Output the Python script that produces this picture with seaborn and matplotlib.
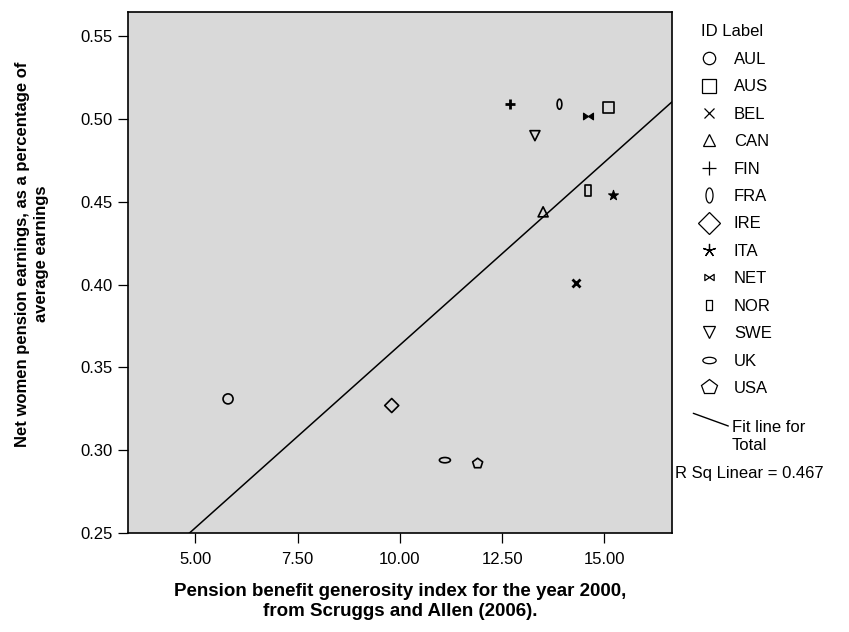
import numpy as np
import pandas as pd
import matplotlib
matplotlib.use("Agg")
import matplotlib.pyplot as plt
from matplotlib.path import Path
from matplotlib.lines import Line2D
from matplotlib.transforms import Affine2D
import seaborn as sns

# ---- data -------------------------------------------------------------
countries = ["AUL", "AUS", "BEL", "CAN", "FIN", "FRA", "IRE",
             "ITA", "NET", "NOR", "SWE", "UK", "USA"]
generosity_2000 = [5.8, 15.1, 14.3, 13.5, 12.7, 13.9, 9.8,
                   15.2, 14.6, 14.6, 13.3, 11.1, 11.9]
women_pension = [0.331, 0.507, 0.401, 0.444, 0.509, 0.509, 0.327,
                 0.454, 0.502, 0.457, 0.490, 0.294, 0.292]
x_ticks = [5.0, 7.5, 10.0, 12.5, 15.0]
y_ticks = [0.25, 0.30, 0.35, 0.40, 0.45, 0.50, 0.55]

df = pd.DataFrame({"country": countries,
                   "generosity": generosity_2000,
                   "pension": women_pension})

# ---- style ------------------------------------------------------------
sns.set_style("ticks")
plt.rcParams["font.family"] = ["Liberation Sans", "DejaVu Sans"]
plt.rcParams["font.size"] = 12
plt.rcParams["text.color"] = "black"
plt.rcParams["axes.labelcolor"] = "black"
plt.rcParams["xtick.color"] = "black"
plt.rcParams["ytick.color"] = "black"


def ellipse(sx, sy):
    return Affine2D().scale(sx, sy).transform_path(Path.unit_circle())


tall_ellipse = ellipse(0.47, 1.0)
flat_ellipse = ellipse(1.0, 0.48)
tall_rect = Path([(-0.5, -1), (0.5, -1), (0.5, 1), (-0.5, 1), (-0.5, -1)],
                 closed=True)
bowtie = Path([(-1, -0.67), (-1, 0.67), (1, -0.67), (1, 0.67), (-1, -0.67)],
              closed=True)

# marker, scatter size (pt^2), fill kind, edge width
point_style = {
    "AUL": ("o", 52, "open", 1.2),
    "AUS": ("s", 63, "open", 1.2),
    "BEL": ("x", 33, "line", 2.0),
    "CAN": ("^", 52, "open", 1.2),
    "FIN": ("+", 42, "line", 2.0),
    "FRA": (tall_ellipse, 52, "open", 1.2),
    "IRE": ("D", 51, "open", 1.2),
    "ITA": ("*", 55, "solid", 0.8),
    "NET": (bowtie, 52, "solid", 0.8),
    "NOR": (tall_rect, 63, "open", 1.2),
    "SWE": ("v", 52, "open", 1.2),
    "UK": (flat_ellipse, 63, "open", 1.2),
    "USA": ("p", 57, "open", 1.2),
}

# marker and marker size (pt) for the key
key_style = {
    "AUL": ("o", 8.9),
    "AUS": ("s", 10.0),
    "BEL": ("x", 7.7),
    "CAN": ("^", 8.4),
    "FIN": ("+", 9.6),
    "FRA": (tall_ellipse, 10.8),
    "IRE": ("D", 10.7),
    "ITA": ((5, 2, 0), 9.5),
    "NET": (bowtie, 6.7),
    "NOR": (tall_rect, 7.7),
    "SWE": ("v", 8.4),
    "UK": (flat_ellipse, 9.6),
    "USA": ("p", 11.5),
}

W, H = 849, 632
fig = plt.figure(figsize=(W / 100, H / 100), dpi=100)
ax = fig.add_axes([127.8 / W, 1 - 533 / H, 544.2 / W, 521.5 / H])
ax.set_facecolor("#d9d9d9")

x_lim = (3.35, 16.65)
y_lim = (0.25, 0.565)
ax.set_xlim(*x_lim)
ax.set_ylim(*y_lim)

# ---- fit line for all countries -----------------------------------------
sns.regplot(data=df, x="generosity", y="pension", scatter=False, ci=None,
            truncate=False, color="k", line_kws=dict(linewidth=1.1), ax=ax)

# ---- one marker shape per country ---------------------------------------
for name in countries:
    marker, size, kind, lw = point_style[name]
    kw = dict(marker=marker, s=size, linewidth=lw)
    if kind == "line":
        kw["color"] = "k"
    elif kind == "solid":
        kw.update(facecolor="k", edgecolor="k")
    else:
        kw.update(facecolor="none", edgecolor="k")
    sns.scatterplot(data=df[df["country"] == name], x="generosity",
                    y="pension", ax=ax, legend=False, zorder=3, **kw)

ax.set_xlim(*x_lim)
ax.set_ylim(*y_lim)

# ---- axes ----------------------------------------------------------------
ax.set_xticks(x_ticks)
ax.set_xticklabels([f"{v:.2f}" for v in x_ticks])
ax.set_yticks(y_ticks)
ax.set_yticklabels([f"{v:.2f}" for v in y_ticks])
ax.tick_params(axis="both", direction="out", length=7, width=0.9,
               colors="k", labelsize=12)
ax.tick_params(axis="x", pad=7)
ax.tick_params(axis="y", pad=4)
for spine in ax.spines.values():
    spine.set_visible(True)
    spine.set_color("k")
    spine.set_linewidth(1.2)

ax.set_xlabel("Pension benefit generosity index for the year 2000,\n"
              "from Scruggs and Allen (2006).",
              fontsize=13.5, fontweight="bold", labelpad=11,
              linespacing=1.25)
ax.set_ylabel("Net women pension earnings, as a percentage of\n"
              "average earnings", fontsize=12, fontweight="bold",
              linespacing=1.3)
ax.yaxis.set_label_coords(-0.145, 0.535)

# ---- key -------------------------------------------------------------------
handles = []
for name in countries:
    marker, ms = key_style[name]
    handles.append(Line2D([], [], linestyle="none", marker=marker,
                          markersize=ms, color="k", markerfacecolor="none",
                          markeredgecolor="k", markeredgewidth=0.9))
leg = ax.legend(handles, countries, title="ID Label", loc="upper left",
                bbox_to_anchor=(700.6 / W, 1 - 24.5 / H),
                bbox_transform=fig.transFigure, frameon=False,
                fontsize=12, title_fontsize=12, alignment="left",
                borderpad=0, borderaxespad=0, labelspacing=0.745,
                handlelength=1.0, handletextpad=1.0, handleheight=0.7)

fig.add_artist(Line2D([693.3 / W, 728.3 / W], [1 - 413.3 / H, 1 - 426 / H],
                      transform=fig.transFigure, color="k", linewidth=1.0))
fig.text(731.7 / W, 1 - 427.7 / H, "Fit line for", va="center", fontsize=12)
fig.text(731.7 / W, 1 - 445.3 / H, "Total", va="center", fontsize=12)

r_sq = np.corrcoef(df["generosity"], df["pension"])[0, 1] ** 2
fig.text(675 / W, 1 - 473.3 / H, f"R Sq Linear = {r_sq:.3f}",
         va="center", fontsize=12)

fig.savefig("out.png", dpi=100)
